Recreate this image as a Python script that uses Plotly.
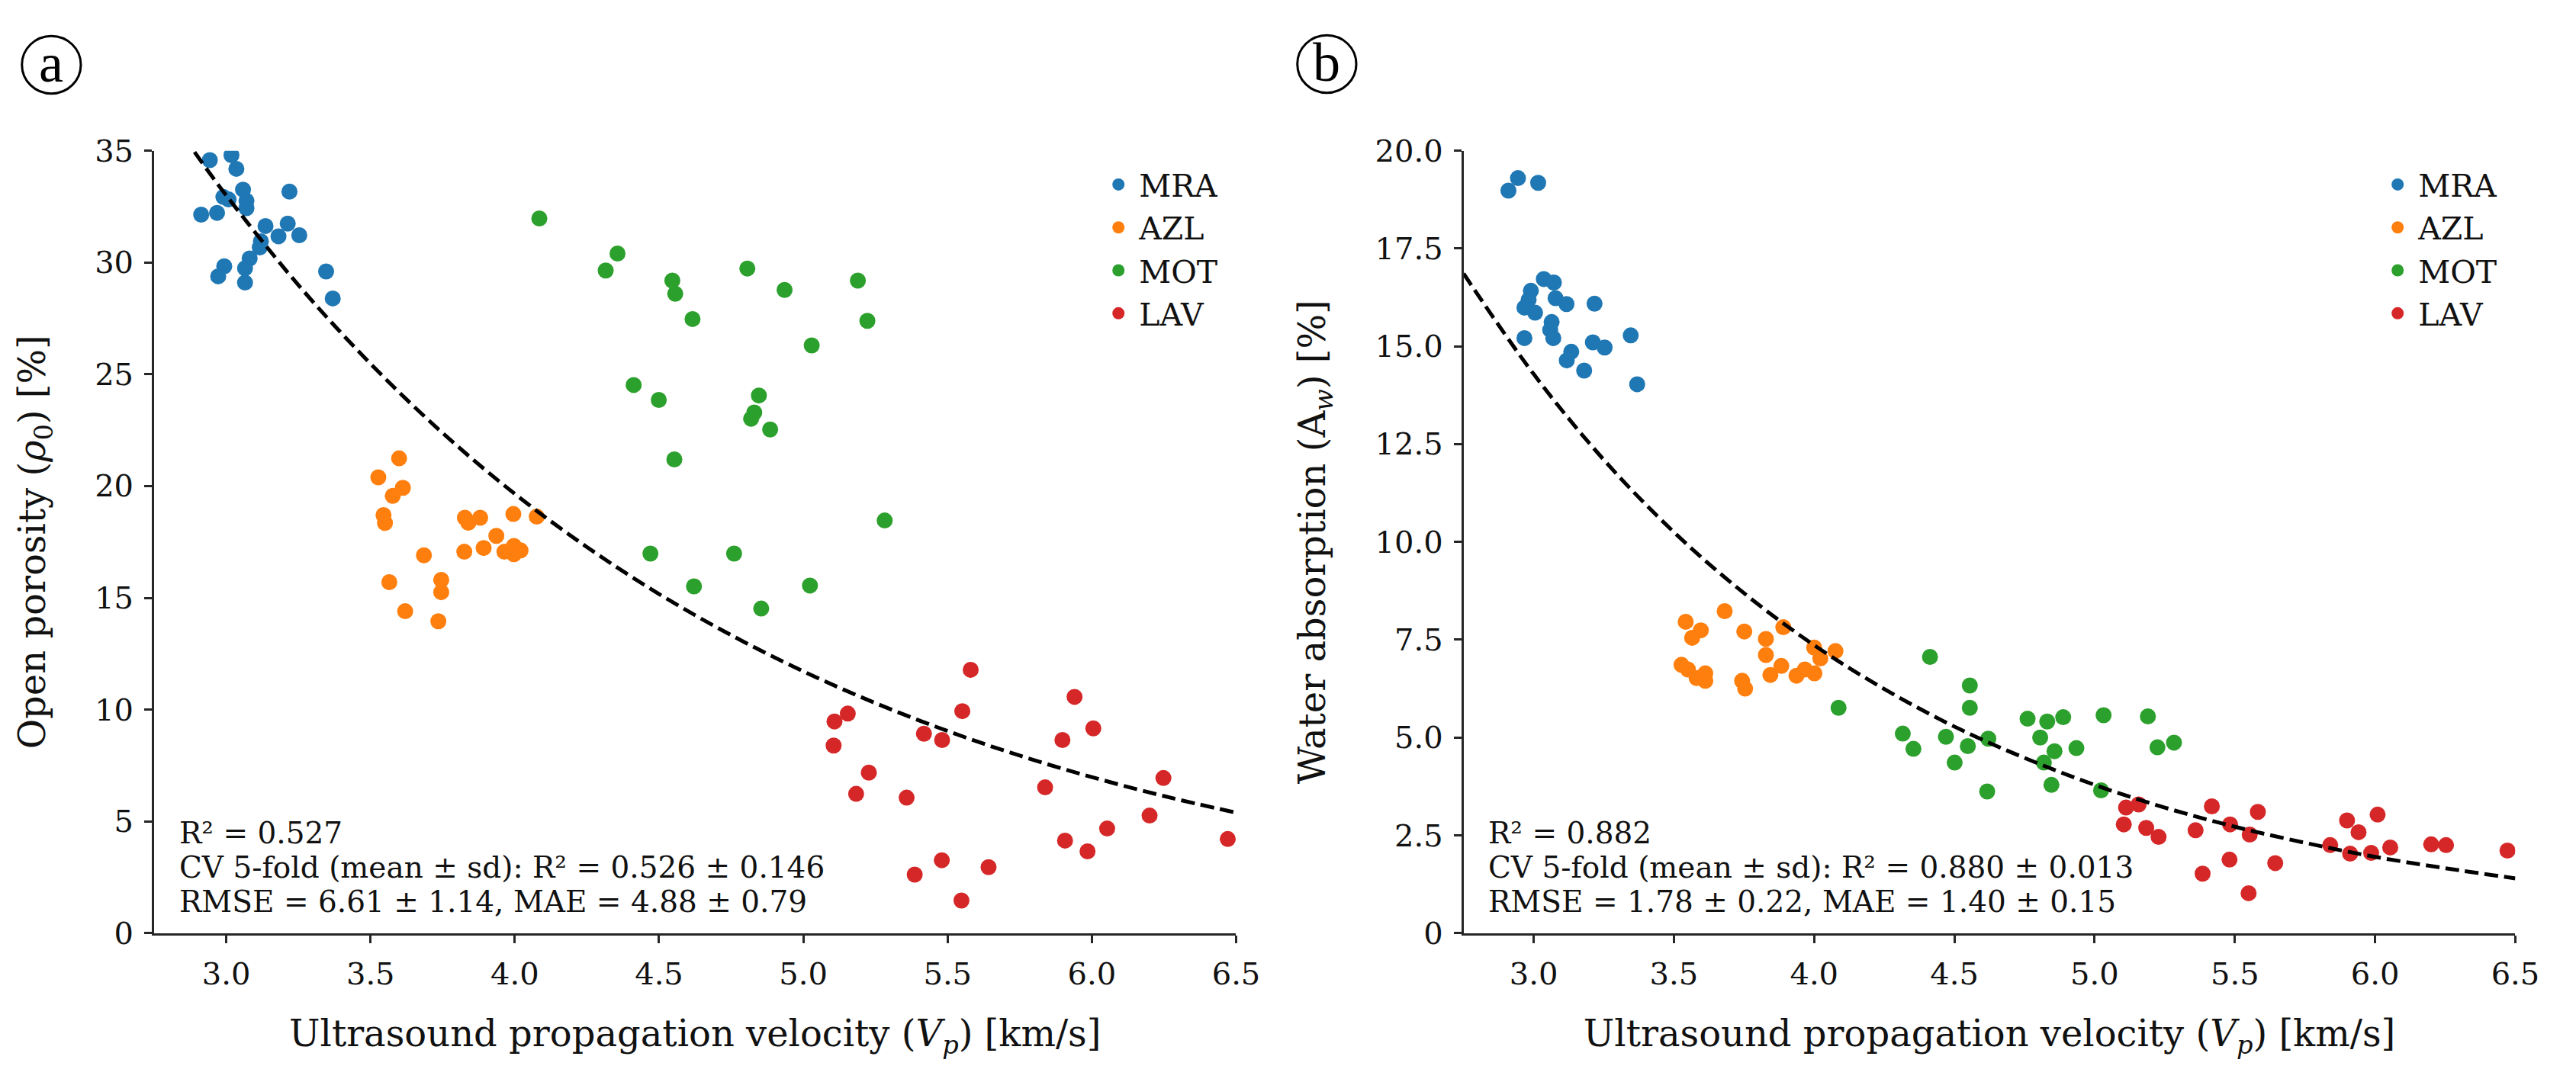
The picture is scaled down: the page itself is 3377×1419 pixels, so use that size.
import plotly.graph_objects as go

# ---------------- Panel (a): open porosity vs Vp ----------------
MRA_vp_a = [2.943, 3.018, 3.035, 3.058, 3.219, 2.990, 3.008, 3.070, 3.070, 2.913, 2.968, 3.136,
            3.213, 3.181, 3.253, 3.120, 3.116, 3.081, 2.993, 3.065, 2.972, 3.065, 3.346, 3.369]
MRA_por = [34.58, 34.80, 34.19, 33.26, 33.17, 32.93, 32.82, 32.76, 32.43, 32.14, 32.22, 31.63,
           31.74, 31.17, 31.22, 30.95, 30.67, 30.18, 29.83, 29.74, 29.38, 29.10, 29.60, 28.39]

AZL_vp_a = [3.599, 3.527, 3.612, 3.577, 3.545, 3.550, 3.565, 3.620, 3.685, 3.745, 3.745, 3.735,
            3.827, 3.839, 3.880, 3.995, 4.076, 3.936, 3.825, 3.892, 3.964, 3.997, 4.020, 3.997]
AZL_por = [21.24, 20.39, 19.92, 19.56, 18.70, 18.35, 15.70, 14.40, 16.90, 15.80, 15.25, 13.95,
           18.58, 18.36, 18.58, 18.75, 18.63, 17.77, 17.06, 17.23, 17.06, 17.32, 17.12, 16.95]

MOT_vp_a = [4.085, 4.356, 4.315, 4.546, 4.556, 4.806, 4.935, 5.189, 4.616, 5.222, 5.029, 4.412,
            4.499, 4.846, 4.830, 4.819, 4.885, 4.553, 5.282, 4.470, 4.760, 4.621, 5.023, 4.854]
MOT_por = [31.97, 30.40, 29.64, 29.19, 28.60, 29.73, 28.77, 29.19, 27.47, 27.39, 26.29, 24.52,
           23.85, 24.05, 23.29, 23.01, 22.53, 21.19, 18.46, 16.98, 16.98, 15.51, 15.55, 14.52]

LAV_vp_a = [5.580, 5.940, 5.154, 5.108, 5.551, 6.005, 5.418, 5.481, 5.898, 5.105, 5.227, 6.248,
            5.838, 5.183, 5.358, 6.200, 6.053, 6.471, 5.907, 5.985, 5.480, 5.642, 5.386, 5.548]
LAV_por = [11.78, 10.57, 9.82, 9.47, 9.93, 9.16, 8.92, 8.64, 8.64, 8.39, 7.18, 6.94,
           6.52, 6.23, 6.06, 5.26, 4.68, 4.21, 4.14, 3.66, 3.26, 2.95, 2.62, 1.46]

fit_a_vp = [2.89, 3.0, 3.25, 3.5, 3.75, 4.0, 4.25, 4.5, 4.75, 5.0, 5.25, 5.5, 5.75, 6.0, 6.25, 6.5]
fit_a_por = [34.94, 33.0, 28.99, 25.47, 22.37, 19.65, 17.27, 15.17, 13.33, 11.71, 10.29, 9.04,
             7.94, 6.98, 6.13, 5.39]

stats_a = ["R² = 0.527",
           "CV 5-fold (mean ± sd): R² = 0.526 ± 0.146",
           "RMSE = 6.61 ± 1.14, MAE = 4.88 ± 0.79"]

# ---------------- Panel (b): water absorption vs Vp ----------------
MRA_vp_b = [2.910, 2.944, 3.016, 3.036, 3.072, 2.990, 2.982, 2.967, 3.005, 3.078, 3.117, 3.217,
            3.064, 3.059, 3.070, 2.967, 3.211, 3.253, 3.346, 3.134, 3.118, 3.180, 3.369]
MRA_abs = [18.98, 19.30, 19.18, 16.72, 16.63, 16.42, 16.19, 15.99, 15.86, 16.23, 16.08, 16.09,
           15.62, 15.42, 15.21, 15.21, 15.10, 14.97, 15.28, 14.86, 14.64, 14.38, 14.03]

AZL_vp_b = [3.542, 3.596, 3.565, 3.681, 3.751, 3.828, 3.890, 3.828, 4.000, 4.022, 4.076, 3.527,
            3.550, 3.581, 3.612, 3.612, 3.743, 3.754, 3.844, 3.883, 3.937, 3.967, 4.001]
AZL_abs = [7.96, 7.74, 7.55, 8.23, 7.71, 7.52, 7.82, 7.11, 7.30, 7.02, 7.21, 6.86,
           6.74, 6.52, 6.64, 6.45, 6.45, 6.25, 6.60, 6.83, 6.58, 6.74, 6.64]

MOT_vp_b = [4.413, 4.555, 4.555, 4.087, 4.761, 4.831, 4.888, 5.032, 5.190, 4.316, 4.470, 4.621,
            4.806, 4.354, 4.548, 4.857, 4.935, 5.224, 5.283, 4.501, 4.819, 4.846, 4.617, 5.023]
MOT_abs = [7.06, 6.33, 5.76, 5.76, 5.48, 5.41, 5.52, 5.57, 5.54, 5.10, 5.02, 4.97,
           5.00, 4.71, 4.78, 4.65, 4.73, 4.75, 4.87, 4.36, 4.36, 3.79, 3.62, 3.65]

LAV_vp_b = [5.112, 5.157, 5.418, 5.582, 6.009, 5.900, 5.104, 5.184, 5.483, 5.941, 5.360, 5.228,
            5.553, 5.840, 6.054, 6.200, 6.253, 6.472, 5.911, 5.986, 5.481, 5.644, 5.385, 5.549]
LAV_abs = [3.21, 3.29, 3.24, 3.10, 3.03, 2.88, 2.78, 2.69, 2.78, 2.58, 2.63, 2.46,
           2.52, 2.25, 2.19, 2.27, 2.25, 2.11, 2.03, 2.05, 1.88, 1.79, 1.52, 1.02]

fit_b_vp = [2.75, 3.0, 3.25, 3.5, 3.75, 4.0, 4.25, 4.5, 4.75, 5.0, 5.25, 5.5, 5.75, 6.0, 6.25, 6.5]
fit_b_abs = [16.86, 14.29, 12.10, 10.25, 8.69, 7.36, 6.24, 5.28, 4.48, 3.79, 3.21, 2.72,
             2.31, 1.95, 1.66, 1.40]

stats_b = ["R² = 0.882",
           "CV 5-fold (mean ± sd): R² = 0.880 ± 0.013",
           "RMSE = 1.78 ± 0.22, MAE = 1.40 ± 0.15"]

group_names = ["MRA", "AZL", "MOT", "LAV"]
group_colors = ["#1f77b4", "#ff7f0e", "#2ca02c", "#d62728"]

x_ticks = [3.0, 3.5, 4.0, 4.5, 5.0, 5.5, 6.0, 6.5]
x_ticktext = ["3.0", "3.5", "4.0", "4.5", "5.0", "5.5", "6.0", "6.5"]
ya_ticks = [0, 5, 10, 15, 20, 25, 30, 35]
ya_ticktext = ["0", "5", "10", "15", "20", "25", "30", "35"]
yb_ticks = [0, 2.5, 5.0, 7.5, 10.0, 12.5, 15.0, 17.5, 20.0]
yb_ticktext = ["0", "2.5", "5.0", "7.5", "10.0", "12.5", "15.0", "17.5", "20.0"]

# ---------------- Figure ----------------
W, H = 3377, 1419
SERIF = "DejaVu Serif"
AXC = "#262626"

fig = go.Figure()

panel_a = [(MRA_vp_a, MRA_por), (AZL_vp_a, AZL_por), (MOT_vp_a, MOT_por), (LAV_vp_a, LAV_por)]
panel_b = [(MRA_vp_b, MRA_abs), (AZL_vp_b, AZL_abs), (MOT_vp_b, MOT_abs), (LAV_vp_b, LAV_abs)]

for (xs, ys), name, col in zip(panel_a, group_names, group_colors):
    fig.add_trace(go.Scatter(x=xs, y=ys, mode="markers", name=name,
                             marker=dict(size=21, color=col, line=dict(width=0)),
                             xaxis="x", yaxis="y", legend="legend"))
fig.add_trace(go.Scatter(x=fit_a_vp, y=fit_a_por, mode="lines", showlegend=False,
                         line=dict(color="black", width=5, dash="18px,8px", shape="spline"),
                         xaxis="x", yaxis="y"))

for (xs, ys), name, col in zip(panel_b, group_names, group_colors):
    fig.add_trace(go.Scatter(x=xs, y=ys, mode="markers", name=name,
                             marker=dict(size=21, color=col, line=dict(width=0)),
                             xaxis="x2", yaxis="y2", legend="legend2"))
fig.add_trace(go.Scatter(x=fit_b_vp, y=fit_b_abs, mode="lines", showlegend=False,
                         line=dict(color="black", width=5, dash="18px,8px", shape="spline"),
                         xaxis="x2", yaxis="y2"))

ydom = [1 - 1241 / H, 1 - 180.5 / H]


def xax(domain, anchor):
    return dict(domain=domain, anchor=anchor, range=[2.75, 6.5],
                showline=True, linecolor=AXC, linewidth=3,
                ticks="outside", ticklen=10, tickwidth=3, tickcolor=AXC,
                tickvals=x_ticks, ticktext=x_ticktext,
                tickfont=dict(family=SERIF, size=40, color="#111"),
                ticklabelstandoff=6,
                showgrid=False, zeroline=False,
                title=dict(text="Ultrasound propagation velocity (<i>V<sub>p</sub></i>) [km/s]",
                           font=dict(family=SERIF, size=48, color="#111"), standoff=40))


def yax(anchor, rng, tv, tt, title):
    return dict(domain=ydom, anchor=anchor, range=rng,
                showline=True, linecolor=AXC, linewidth=3,
                ticks="outside", ticklen=10, tickwidth=3, tickcolor=AXC,
                tickvals=tv, ticktext=tt,
                tickfont=dict(family=SERIF, size=40, color="#111"),
                ticklabelstandoff=6,
                showgrid=False, zeroline=False,
                title=dict(text=title, font=dict(family=SERIF, size=48, color="#111"), standoff=50))


legend_common = dict(font=dict(family=SERIF, size=41, color="#111"), bgcolor="rgba(0,0,0,0)",
                     xanchor="left", yanchor="top", itemsizing="trace", tracegroupgap=0,
                     itemwidth=44)

fig.update_layout(
    width=W, height=H,
    margin=dict(l=0, r=0, t=0, b=0),
    paper_bgcolor="white", plot_bgcolor="white",
    xaxis=xax([204 / W, 1636 / W], "y"),
    yaxis=yax("x", [0, 35], ya_ticks, ya_ticktext, "Open porosity (<i>ρ</i><sub>0</sub>) [%]"),
    xaxis2=xax([1937 / W, 3329 / W], "y2"),
    yaxis2=yax("x2", [0, 20], yb_ticks, yb_ticktext, "Water absorption (A<sub><i>w</i></sub>) [%]"),
    legend=dict(x=(1479 - 26) / W, y=1 - 192 / H, **legend_common),
    legend2=dict(x=(3172 - 26) / W, y=1 - 192 / H, **legend_common),
)

# statistics text blocks
line_y = [1105, 1152, 1198]
for x0, lines in [(235, stats_a), (1968, stats_b)]:
    for ly, txt in zip(line_y, lines):
        fig.add_annotation(x=x0 / W, y=1 - ly / H, xref="paper", yref="paper",
                           text=txt, showarrow=False, xanchor="left", yanchor="middle",
                           font=dict(family=SERIF, size=39, color="#111"))

# panel letters in circles
for cx, cy, letter in [(68, 64, "a"), (1756, 63, "b")]:
    fig.add_shape(type="circle", xref="paper", yref="paper",
                  x0=(cx - 39) / W, x1=(cx + 39) / W, y0=1 - (cy + 39) / H, y1=1 - (cy - 39) / H,
                  line=dict(color="black", width=3))
    fig.add_annotation(x=cx / W, y=1 - (cy - 2) / H, xref="paper", yref="paper", text=letter,
                       showarrow=False, xanchor="center", yanchor="middle",
                       font=dict(family="Liberation Serif", size=72, color="black"))

fig.write_html("out.html")
